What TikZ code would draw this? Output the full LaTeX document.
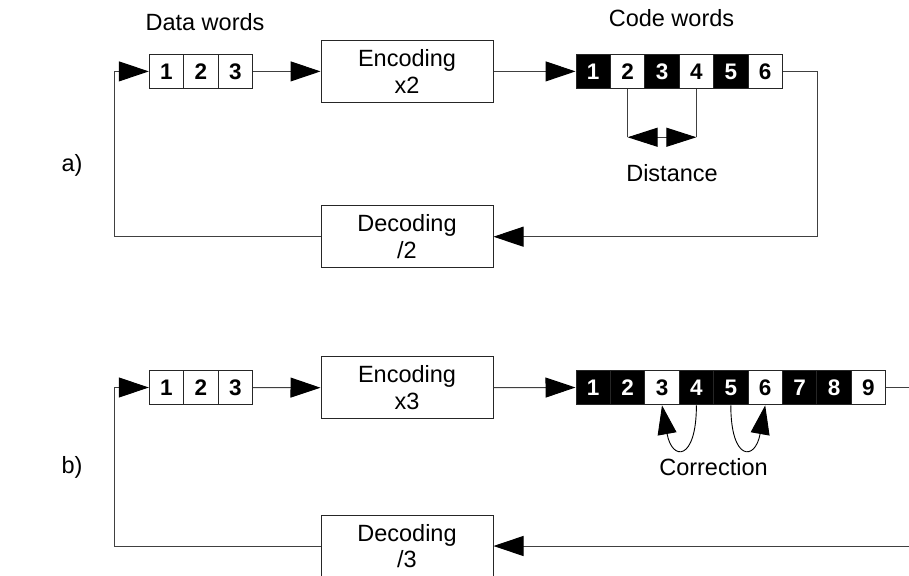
\documentclass[tikz,border=0pt]{standalone}
\usepackage{fontspec}
\setmainfont{Liberation Sans}
\usetikzlibrary{arrows.meta,calc}
\begin{document}
\begin{tikzpicture}[x=1pt,y=-1pt,
  lbl/.style={font=\fontsize{23.5}{26.7}\selectfont, inner sep=0pt},
  cell/.style={draw=black!85, line width=1pt, minimum width=34.4pt, minimum height=34.7pt, inner sep=0pt, font=\fontsize{22.5}{24}\selectfont\bfseries},
  wcell/.style={cell, fill=white, text=black},
  bcell/.style={cell, fill=black, text=white},
  proc/.style={draw=black!85, line width=1pt, minimum width=172pt, minimum height=61.5pt, inner sep=0pt, align=center, font=\fontsize{23.5}{26.7}\selectfont},
  conn/.style={draw=black!75, line width=1pt},
  arr/.style={conn, -{Triangle[length=30pt,width=20pt,color=black]}},
  darr/.style={conn, {Triangle[length=30pt,width=19pt,color=black]}-{Triangle[length=30pt,width=19pt,color=black]}},
  carr/.style={draw=black, line width=0.9pt, -{Triangle[length=29pt,width=19pt,color=black]}},
]
\useasboundingbox (0,0) rectangle (909,575);

% ---------- a) ----------
\node[lbl, anchor=base] (ta) at (205,30.7) {Data words};
\node[lbl, anchor=base] (tca) at (671.5,26.7) {Code words};
\node[lbl, anchor=base] (la) at (72,171) {a)};

\node[wcell] (da1) at (166.5,71.4) {1};
\node[wcell] (da2) at (201,71.4) {2};
\node[wcell] (da3) at (235.5,71.4) {3};

\node[proc] (enca) at (407,71.4) {Encoding\\x2};
\node[proc] (deca) at (407,236.7) {Decoding\\/2};

\node[bcell] (ca1) at (593.2,71.4) {1};
\node[wcell] (ca2) at (627.6,71.4) {2};
\node[bcell] (ca3) at (662.0,71.4) {3};
\node[wcell] (ca4) at (696.4,71.4) {4};
\node[bcell] (ca5) at (730.8,71.4) {5};
\node[wcell] (ca6) at (765.2,71.4) {6};

\draw[arr] (da3.east) -- (enca.west);
\draw[arr] (enca.east) -- (ca1.west);
\draw[arr] (ca6.east) -- ++(34.7,0) |- (deca.east);
\draw[arr] (deca.west) -| ([xshift=-34pt]da1.west) -- (da1.west);

\coordinate (dl) at ($(ca2.south)+(0,48)$);
\coordinate (dr) at ($(ca4.south)+(0,48)$);
\draw[conn] (ca2.south) -- (dl);
\draw[conn] (ca4.south) -- (dr);
\draw[darr] (dl) -- (dr);
\node[lbl, anchor=base] (dist) at (672,181.7) {Distance};

% ---------- b) ----------
\node[lbl, anchor=base] (lb) at (72,473.5) {b)};

\node[wcell] (db1) at (166.5,387.5) {1};
\node[wcell] (db2) at (201,387.5) {2};
\node[wcell] (db3) at (235.5,387.5) {3};

\node[proc] (encb) at (407,387.7) {Encoding\\x3};
\node[proc] (decb) at (407,546) {Decoding\\/3};

\node[bcell] (cb1) at (593.2,387.5) {1};
\node[bcell] (cb2) at (627.6,387.5) {2};
\node[wcell] (cb3) at (662.0,387.5) {3};
\node[bcell] (cb4) at (696.4,387.5) {4};
\node[bcell] (cb5) at (730.8,387.5) {5};
\node[wcell] (cb6) at (765.2,387.5) {6};
\node[bcell] (cb7) at (799.6,387.5) {7};
\node[bcell] (cb8) at (834.0,387.5) {8};
\node[wcell] (cb9) at (868.4,387.5) {9};

\draw[arr] (db3.east) -- (encb.west);
\draw[arr] (encb.east) -- (cb1.west);
\draw[arr] (cb9.east) -- ++(45,0) |- (decb.east);
\draw[arr] (decb.west) -| ([xshift=-34pt]db1.west) -- (db1.west);

\draw[carr] (cb4.south) .. controls +(0,56) and +(10,56) .. (cb3.south);
\draw[carr] (cb5.south) .. controls +(0,56) and +(-10,56) .. (cb6.south);
\node[lbl, anchor=base] (corr) at (713.5,475) {Correction};
\end{tikzpicture}
\end{document}
